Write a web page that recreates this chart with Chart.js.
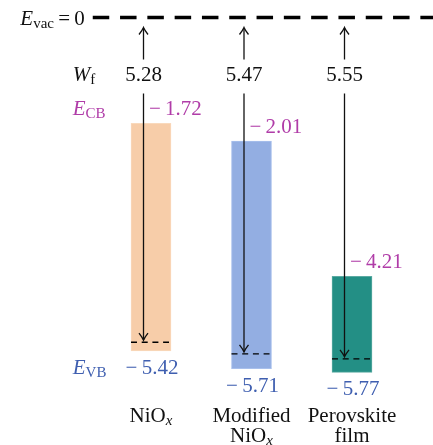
<!DOCTYPE html>
<html><head><meta charset="utf-8">
<script src="https://cdn.jsdelivr.net/npm/chart.js@4/dist/chart.umd.min.js"></script>
<style>html,body{margin:0;padding:0;background:#fff}#wrap{width:433px;height:445px}</style>
</head><body><div id="wrap"><canvas id="c" width="433" height="445"></canvas></div>
<script>
// ---- data ----
const categories = ['NiO_x', 'Modified NiO_x', 'Perovskite film'];
const categoryLines = [['NiO_x'], ['Modified', 'NiO_x'], ['Perovskite', 'film']];
const conductionBand = [-1.72, -2.01, -4.21];   // E_CB (eV)
const valenceBand = [-5.42, -5.71, -5.77];      // E_VB (eV)
const workFunction = [5.28, 5.47, 5.55];        // W_f (eV)
const vacuumLevel = 0;                          // E_vac = 0
const barColors = ['#F7CDA9', '#93AEE2', '#238F85'];
const barEdges = ['#F9D9BC', '#A9C0EC', '#5BAAA2'];

const MAIN = 21, SUB = 15, FONT = '"Liberation Serif", "DejaVu Serif", serif';
const CB_COLOR = '#B03CA8', VB_COLOR = '#3F5FB0', INK = '#111';

function fontFor(style) {
  const sub = style[0] === 's';
  const it = style.indexOf('i') >= 0;
  return (it ? 'italic ' : '') + (sub ? SUB : MAIN) + 'px ' + FONT;
}
function parseMarkup(str) {
  const i = str.indexOf('_');
  if (i < 0) return [[str, 'r']];
  return [[str.slice(0, i), 'r'], [str.slice(i + 1), 'si']];
}
function drawRich(ctx, segs, x, y, align, color) {
  let w = 0;
  for (const s of segs) { ctx.font = fontFor(s[1]); w += ctx.measureText(s[0]).width; }
  let cx = align === 'center' ? x - w / 2 : align === 'right' ? x - w : x;
  ctx.fillStyle = color; ctx.textAlign = 'left'; ctx.textBaseline = 'alphabetic';
  for (const s of segs) {
    ctx.font = fontFor(s[1]);
    ctx.fillText(s[0], cx, y + (s[1][0] === 's' ? 3 : 0));
    cx += ctx.measureText(s[0]).width;
  }
}
function fmtNeg(v) { return '\u2212\u2009' + Math.abs(v).toFixed(2); }
function arrowHead(ctx, x, y, dir) {
  ctx.beginPath();
  ctx.moveTo(x - 4.5, y - dir * 7);
  ctx.quadraticCurveTo(x - 1, y - dir * 2.5, x, y);
  ctx.quadraticCurveTo(x + 1, y - dir * 2.5, x + 4.5, y - dir * 7);
  ctx.stroke();
}

const energyPlugin = {
  id: 'energy',
  afterDatasetsDraw(chart) {
    const ctx = chart.ctx, xs = chart.scales.x, ys = chart.scales.y, ca = chart.chartArea;
    const meta = chart.getDatasetMeta(0);
    ctx.save();
    const vy = ys.getPixelForValue(vacuumLevel);
    ctx.strokeStyle = '#000'; ctx.lineWidth = 3.3; ctx.setLineDash([16.5, 10.8]);
    ctx.beginPath(); ctx.moveTo(ca.left - 8, vy); ctx.lineTo(chart.width + 5, vy); ctx.stroke();
    ctx.setLineDash([]);
    drawRich(ctx, [['E', 'i'], ['vac', 's'], ['\u2009=\u20090', 'r']], ca.left - 16, vy + 7, 'right', INK);

    const labX = ca.left - 28;
    drawRich(ctx, [['W', 'i'], ['f', 's']], labX, vy + 63, 'left', INK);
    const cb0 = ys.getPixelForValue(conductionBand[0]);
    drawRich(ctx, [['E', 'i'], ['CB', 's']], labX, cb0 - 8, 'left', CB_COLOR);
    const vb0 = ys.getPixelForValue(valenceBand[0]);
    drawRich(ctx, [['E', 'i'], ['VB', 's']], labX, vb0 + 23, 'left', VB_COLOR);

    for (let i = 0; i < categories.length; i++) {
      const el = meta.data[i];
      const cx = xs.getPixelForValue(i);
      const half = el.width / 2;
      const ax = cx - 7.5;
      const top = ys.getPixelForValue(conductionBand[i]);
      const bot = ys.getPixelForValue(valenceBand[i]);
      const wy = ys.getPixelForValue(-workFunction[i]);

      ctx.strokeStyle = '#000'; ctx.lineWidth = 1.4; ctx.setLineDash([6, 4.7]);
      ctx.beginPath(); ctx.moveTo(cx - half, wy); ctx.lineTo(cx + half - 2, wy); ctx.stroke();
      ctx.setLineDash([]);

      ctx.strokeStyle = INK; ctx.lineWidth = 1.3;
      ctx.beginPath(); ctx.moveTo(ax, vy + 42); ctx.lineTo(ax, vy + 10.5); ctx.stroke();
      arrowHead(ctx, ax, vy + 10, -1);
      ctx.beginPath(); ctx.moveTo(ax, vy + 76); ctx.lineTo(ax, wy - 2.5); ctx.stroke();
      arrowHead(ctx, ax, wy - 2, 1);

      drawRich(ctx, [[workFunction[i].toFixed(2), 'r']], ax, vy + 63, 'center', INK);
      drawRich(ctx, [[fmtNeg(conductionBand[i]), 'r']], cx - 2, top - 8, 'left', CB_COLOR);
      drawRich(ctx, [[fmtNeg(valenceBand[i]), 'r']], cx + 1, bot + 23, 'center', VB_COLOR);

      categoryLines[i].forEach((ln, k) => {
        drawRich(ctx, parseMarkup(ln), cx, ca.bottom + 23 + k * 20, 'center', INK);
      });
    }
    ctx.restore();
  }
};

new Chart(document.getElementById('c'), {
  type: 'bar',
  data: {
    labels: categories,
    datasets: [{
      data: categories.map((_, i) => [valenceBand[i], conductionBand[i]]),
      backgroundColor: barColors,
      borderColor: barEdges,
      borderWidth: 1,
      borderSkipped: false,
      barThickness: 40
    }]
  },
  options: {
    responsive: false,
    animation: false,
    devicePixelRatio: 1,
    layout: { padding: { left: 100.75, right: 30.75, top: 5.2, bottom: 46.2 } },
    plugins: { legend: { display: false }, tooltip: { enabled: false } },
    scales: {
      x: { display: false, offset: true, grid: { display: false } },
      y: { display: false, min: -6.2, max: 0.2 }
    }
  },
  plugins: [energyPlugin]
});
</script>
</body></html>
